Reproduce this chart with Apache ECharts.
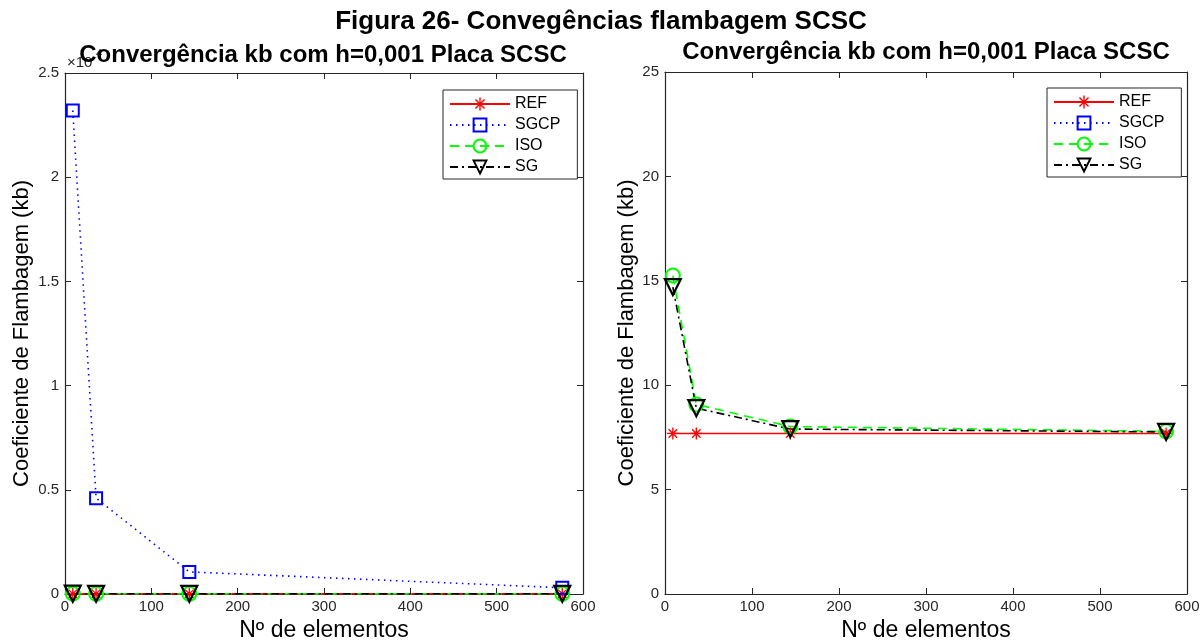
<!DOCTYPE html>
<html>
<head>
<meta charset="utf-8">
<script src="https://cdn.jsdelivr.net/npm/echarts@6/dist/echarts.min.js"></script>
<style>
  html, body { margin: 0; padding: 0; background: #fff; }
  #chart { width: 1203px; height: 643px; }
</style>
</head>
<body>
<div id="chart"></div>
<script>
// Mesh sizes (number of elements) and buckling coefficients kb
const elements = [9, 36, 144, 576];
const refKb  = [7.69, 7.69, 7.69, 7.69];
const sgcpKb = [23200, 4600, 1060, 300];
const isoKb  = [15.25, 9.08, 8.02, 7.79];
const sgKb   = [14.7, 8.9, 7.9, 7.76];

const xTicks = [0, 100, 200, 300, 400, 500, 600];
const leftScale = 10000;   // left panel labels are shown as ×10^4

const FONT = 'Liberation Sans, Arial, sans-serif';
const AX = '#262626';

// asterisk marker built from four thin bars
const STAR = 'path://M-1.1,-10 L1.1,-10 L1.1,10 L-1.1,10 Z M-10,-1.1 L10,-1.1 L10,1.1 L-10,1.1 Z ' +
  'M-7.85,-6.3 L-6.3,-7.85 L7.85,6.3 L6.3,7.85 Z M6.3,-7.85 L7.85,-6.3 L-6.3,7.85 L-7.85,6.3 Z';

const pairs = ys => elements.map((x, i) => [x, ys[i]]);

const seriesDefs = [
  { name: 'REF', data: refKb, color: '#ff0000', symbol: STAR, size: 12, rotate: 0,
    line: { type: 'solid', width: 1.6 }, fill: '#ff0000', bw: 0 },
  { name: 'SGCP', data: sgcpKb, color: '#0000ff', symbol: 'rect', size: 12, rotate: 0,
    line: { type: [1.5, 4.5], width: 1.6 }, fill: 'rgba(0,0,0,0)', bw: 2 },
  { name: 'ISO', data: isoKb, color: '#00ff00', symbol: 'circle', size: 14, rotate: 0,
    line: { type: [9, 6], width: 1.6 }, fill: 'rgba(0,0,0,0)', bw: 2 },
  { name: 'SG', data: sgKb, color: '#000000', symbol: 'triangle', size: 16, rotate: 180,
    line: { type: [8, 4, 2, 4], width: 1.6 }, fill: 'rgba(0,0,0,0)', bw: 2.2 }
];

function makeSeries(axisIdx) {
  return seriesDefs.map(d => ({
    name: d.name,
    type: 'line',
    xAxisIndex: axisIdx,
    yAxisIndex: axisIdx,
    data: pairs(d.data),
    symbol: d.symbol,
    symbolSize: d.size,
    symbolRotate: d.rotate,
    showAllSymbol: true,
    clip: true,
    animation: false,
    color: d.color,
    lineStyle: { color: d.color, width: d.line.width, type: d.line.type },
    itemStyle: { color: d.fill, borderColor: d.color, borderWidth: d.bw },
    emphasis: { disabled: true }
  }));
}

const tickLabel = { color: AX, fontFamily: FONT, fontSize: 15 };
const nameStyle = { color: '#000', fontFamily: FONT, fontSize: 22 };

function xAxes(gridIndex) {
  const common = {
    type: 'value', gridIndex, min: xTicks[0], max: xTicks[xTicks.length - 1], interval: 100,
    axisLine: { show: true, onZero: false, lineStyle: { color: AX, width: 1.2 } },
    axisTick: { show: true, inside: true, length: 6, lineStyle: { color: AX } },
    splitLine: { show: false }
  };
  return [
    Object.assign({}, common, { position: 'bottom',
      name: 'Nº de elementos', nameLocation: 'middle', nameGap: 24,
      nameTextStyle: Object.assign({}, nameStyle, { fontSize: 23 }),
      axisLabel: Object.assign({ margin: 5 }, tickLabel) }),
    Object.assign({}, common, { position: 'top', axisLabel: { show: false } })
  ];
}

function yAxes(gridIndex, max, interval, fmt, gap) {
  const common = {
    type: 'value', gridIndex, min: 0, max, interval,
    axisLine: { show: true, onZero: false, lineStyle: { color: AX, width: 1.2 } },
    axisTick: { show: true, inside: true, length: 6, lineStyle: { color: AX } },
    splitLine: { show: false }
  };
  return [
    Object.assign({}, common, { position: 'left',
      name: 'Coeficiente de Flambagem (kb)', nameLocation: 'middle', nameGap: gap, nameTextStyle: nameStyle,
      axisLabel: Object.assign({ margin: 6, formatter: fmt }, tickLabel) }),
    Object.assign({}, common, { position: 'right', axisLabel: { show: false } })
  ];
}

function legend(left, top) {
  return {
    orient: 'vertical', left, top,
    data: seriesDefs.map(d => d.name),
    itemWidth: 60, itemHeight: 16, itemGap: 5,
    padding: [6, 17, 4, 6],
    borderColor: AX, borderWidth: 1, backgroundColor: '#fff',
    textStyle: { color: '#000', fontFamily: FONT, fontSize: 16, lineHeight: 16 },
    selectedMode: false
  };
}

const chart = echarts.init(document.getElementById('chart'), null, { renderer: 'canvas' });

chart.setOption({
  backgroundColor: '#fff',
  animation: false,
  grid: [
    { left: 65, top: 73, width: 518, height: 521, outerBoundsMode: 'none', containLabel: false },
    { left: 665, top: 72, width: 522, height: 522, outerBoundsMode: 'none', containLabel: false }
  ],
  xAxis: [...xAxes(0), ...xAxes(1)],
  yAxis: [
    ...yAxes(0, 25000, 5000, v => String(v / leftScale), 32),
    ...yAxes(1, 25, 5, v => String(v), 23)
  ],
  legend: [legend(443, 90), legend(1047, 88)],
  series: [...makeSeries(0), ...makeSeries(2)],
  graphic: [
    { type: 'text', z: 1, style: { text: '×10', x: 67, y: 63, textAlign: 'left', textVerticalAlign: 'middle',
      font: '15px ' + FONT, fill: AX } },
    { type: 'text', z: 1, style: { text: '4', x: 96, y: 54, textAlign: 'left', textVerticalAlign: 'middle',
      font: '11px ' + FONT, fill: AX } },
    { type: 'text', z: 10, style: { text: 'Figura 26- Convegências flambagem SCSC', x: 601, y: 22,
      textAlign: 'center', textVerticalAlign: 'middle', font: 'bold 26px ' + FONT, fill: '#000' } },
    { type: 'text', z: 10, style: { text: 'Convergência kb com h=0,001 Placa SCSC', x: 323, y: 55,
      textAlign: 'center', textVerticalAlign: 'middle', font: 'bold 24px ' + FONT, fill: '#000' } },
    { type: 'text', z: 10, style: { text: 'Convergência kb com h=0,001 Placa SCSC', x: 926, y: 52,
      textAlign: 'center', textVerticalAlign: 'middle', font: 'bold 24px ' + FONT, fill: '#000' } }
  ]
});
</script>
</body>
</html>
